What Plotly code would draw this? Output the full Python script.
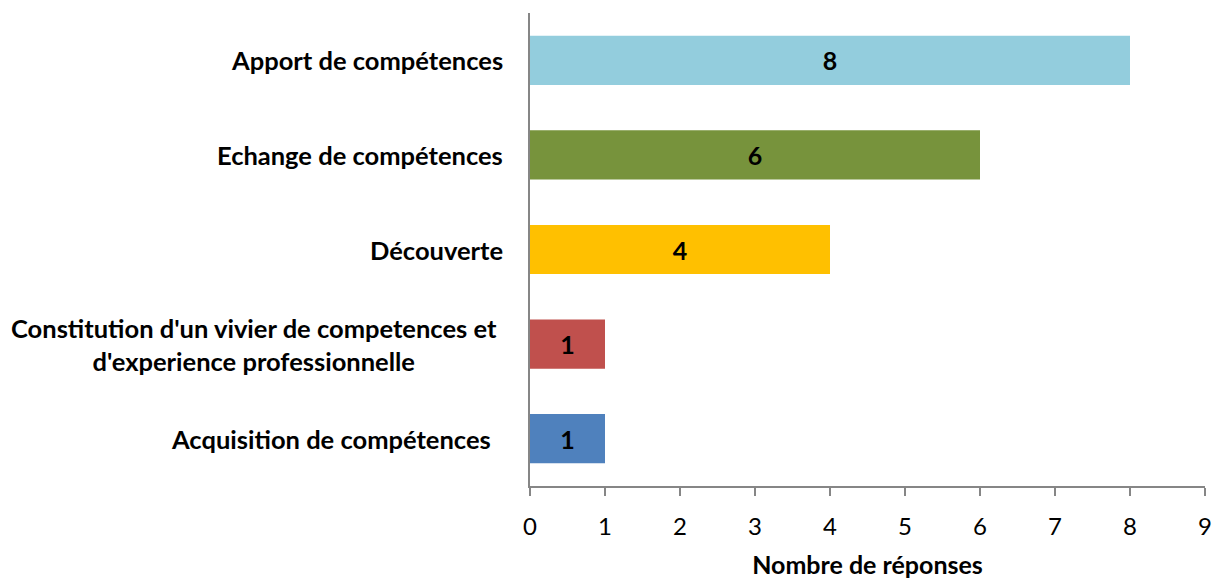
import plotly.graph_objects as go

categories = [
    "Acquisition de compétences",
    "Constitution d'un vivier de competences et<br>d'experience professionnelle",
    "Découverte",
    "Echange de compétences",
    "Apport de compétences",
]
values = [1, 1, 4, 6, 8]
colors = ["#4F81BD", "#C0504D", "#FFC000", "#77933C", "#93CDDD"]
x_ticks = [0, 1, 2, 3, 4, 5, 6, 7, 8, 9]
x_title = "Nombre de réponses"

FONT = "Lato, 'Open Sans', sans-serif"

fig = go.Figure(
    go.Bar(
        x=values,
        y=categories,
        orientation="h",
        marker=dict(color=colors, line=dict(width=0)),
        width=0.52,
        text=[str(v) for v in values],
        textposition="inside",
        insidetextanchor="middle",
        textangle=0,
        textfont=dict(family=FONT, size=25, color="black", weight="bold"),
        hoverinfo="skip",
    )
)

# category labels as annotations (centered multi-line like the original)
label_shift = [-37, -31, -25, -25, -25]
for cat, sh in zip(categories, label_shift):
    fig.add_annotation(
        x=0, xref="paper", y=cat, yref="y",
        text=cat, showarrow=False,
        xanchor="right", yanchor="middle", align="center",
        xshift=sh,
        font=dict(family=FONT, size=25.5, color="black", weight="bold"),
    )

fig.update_layout(
    width=1220, height=583,
    margin=dict(l=530, r=8, t=13, b=86),
    paper_bgcolor="white", plot_bgcolor="white",
    showlegend=False,
    xaxis=dict(
        range=[0, 9],
        tickvals=x_ticks,
        ticktext=[str(t) for t in x_ticks],
        showgrid=False, zeroline=False,
        showline=True, linecolor="#868686", linewidth=2,
        ticks="outside", ticklen=8, tickwidth=1.5, tickcolor="#868686",
        tickfont=dict(family=FONT, size=24, color="black"),
        ticklabelstandoff=10,
        ticklabeloverflow="allow",
        title=dict(text=x_title, standoff=18,
                   font=dict(family=FONT, size=25, color="black", weight="bold")),
    ),
    yaxis=dict(
        showticklabels=False,
        showgrid=False, zeroline=False,
        showline=True, linecolor="#868686", linewidth=2,
        ticks="",
    ),
)

fig.write_html(
    "out.html",
    config={"displayModeBar": False},
    post_script=(
        "document.documentElement.style.overflow='hidden';"
        "document.body.style.margin='0';"
        "document.body.style.overflow='hidden';"
        "document.body.style.height='583px';"
    ),
)
